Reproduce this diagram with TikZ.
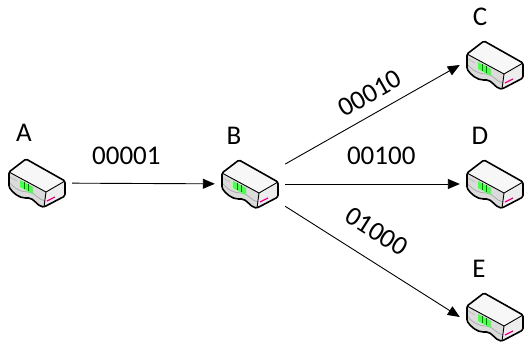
\documentclass[tikz,border=0pt]{standalone}
\usepackage{fontspec}
\setmainfont{Carlito}
\usetikzlibrary{arrows.meta}

\tikzset{
  every node/.style={font=\fontsize{27}{32}\selectfont},
  router/.style={minimum width=70pt, minimum height=52pt, inner sep=0pt},
  arr/.style={-{Triangle[length=12pt,width=10pt]}, line width=0.9pt},
  routericon/.pic={
    % faces
    \fill[gray!6] (-28,-11) -- (-11,-24) -- (28,-2) -- (9,9) -- cycle;
    \fill[gray!28] (-28,-11) -- (9,9) -- (7,24) .. controls (0,23) and (-3,15) .. (-10,15)
      .. controls (-18,15) and (-24,10) .. (-28,4) -- cycle;
    \fill[gray!14] (9,9) -- (28,-2) -- (28,13) -- (7,24) -- cycle;
    \draw[gray!65, line width=0.8pt] (-28,-1) .. controls (-22,6) and (-16,9) .. (-9,9)
      .. controls (-2,9) and (1,17) .. (8,18);
    \draw[gray!55, line width=0.6pt] (-27,-6) -- (-20,-2);
    \fill[green!70!white] (-17,-3) -- (-4,4) -- (-4,11) -- (-17,4) -- cycle;
    \draw[green!45!black, line width=0.6pt] (-13,-1) -- (-13,6) (-9,1) -- (-9,8);
    \draw[magenta, line width=1.2pt] (10,18) -- (18,14);
    % outline
    \draw[line width=1.6pt, line join=round, rounded corners=1.5pt] (-28,-11) -- (-11,-24)
      -- (28,-2) -- (28,13) -- (7,24) .. controls (0,23) and (-3,15) .. (-10,15)
      .. controls (-18,15) and (-24,10) .. (-28,4) -- cycle;
    \draw[line width=0.9pt, line join=round] (-28,-11) -- (9,9) -- (28,-2) (9,9) -- (7,24);
  }
}

\begin{document}
\begin{tikzpicture}[x=1pt, y=-1pt]
  \useasboundingbox (0,0) rectangle (524,345);
  \node[router] (A) at (37,183) {};
  \node[router] (B) at (250,184) {};
  \node[router] (C) at (495,65) {};
  \node[router] (D) at (495,184) {};
  \node[router] (E) at (495,317) {};
  \pic at (A) {routericon};
  \pic at (B) {routericon};
  \pic at (C) {routericon};
  \pic at (D) {routericon};
  \pic at (E) {routericon};
  \node (nameA) at ([shift={(-13,-50)}]A) {A};
  \node (nameB) at ([shift={(-16,-48)}]B) {B};
  \node (nameC) at ([shift={(-15,-48)}]C) {C};
  \node (nameD) at ([shift={(-15,-48)}]D) {D};
  \node (nameE) at ([shift={(-16,-48)}]E) {E};
  \draw[arr] (A) -- node[above=14.5pt, pos=0.38] (codeAB) {00001} (B);
  \draw[arr] (B) -- node[sloped, above=7pt, pos=0.54] (codeBC) {00010} (C.west);
  \draw[arr] (B) -- node[above=15.5pt, pos=0.55] (codeBD) {00100} (D.west);
  \draw[arr] (B) -- node[sloped, above=15pt, pos=0.44] (codeBE) {01000} (E.west);
\end{tikzpicture}
\end{document}
